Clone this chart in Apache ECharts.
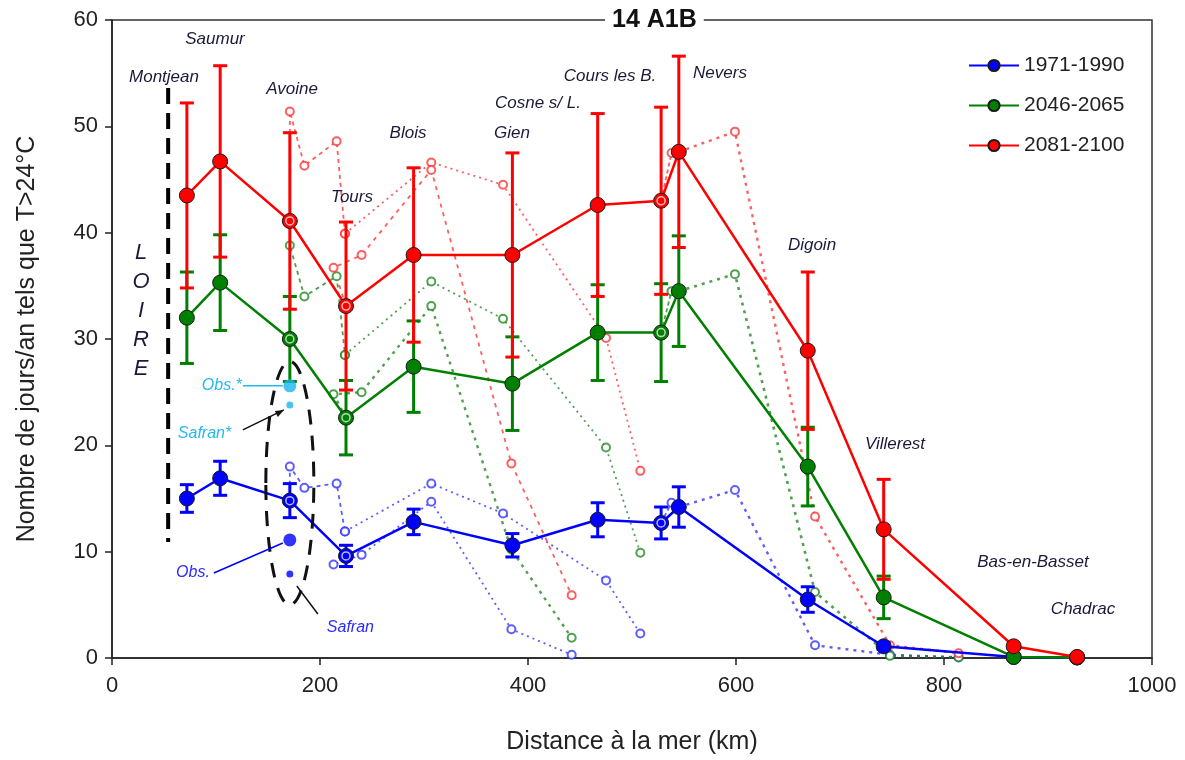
<!DOCTYPE html>
<html>
<head>
<meta charset="utf-8">
<script src="https://cdn.jsdelivr.net/npm/echarts@6/dist/echarts.min.js"></script>
<style>
  html, body { margin: 0; padding: 0; background: #fff; }
  #chart { width: 1185px; height: 760px; }
</style>
</head>
<body>
<div id="chart"></div>
<script>
// stations along the Loire (distance to the sea, km)
const stations = ['Montjean', 'Saumur', 'Avoine', 'Tours', 'Blois', 'Gien', 'Cosne s/ L.', 'Cours les B.', 'Nevers', 'Digoin', 'Villerest', 'Bas-en-Basset', 'Chadrac'];
const distances = [72, 104, 171, 225, 290, 385, 467, 528, 545, 669, 742, 867, 928];

const days1971 = [15.0, 16.9, 14.8, 9.6, 12.8, 10.6, 13.0, 12.7, 14.2, 5.5, 1.1, 0.1, 0.05];
const err1971 = [1.3, 1.6, 1.6, 1.0, 1.2, 1.1, 1.6, 1.5, 1.9, 1.2, 0.3, 0, 0];
const days2046 = [32.0, 35.3, 30.0, 22.6, 27.4, 25.8, 30.6, 30.6, 34.5, 18.0, 5.7, 0.1, 0.05];
const err2046 = [4.3, 4.5, 4.0, 3.5, 4.3, 4.4, 4.5, 4.6, 5.2, 3.7, 2.0, 0, 0];
const days2081 = [43.5, 46.7, 41.1, 33.1, 37.9, 37.9, 42.6, 43.0, 47.6, 28.9, 12.1, 1.1, 0.1];
const err2081 = [8.7, 9.0, 8.3, 7.9, 8.2, 9.6, 8.6, 8.8, 9.0, 7.4, 4.7, 0.2, 0];

// tributaries (dotted lines), distances in km
const tribAx = [171, 171, 185, 216, 224];
const tribBx = [224, 307, 376, 475, 508];
const tribCx = [225, 213, 240, 307, 384, 442];
const tribDx = [528, 538];
const tribEx = [545, 599, 676, 748, 814];

const tribA1971 = [14.8, 18.0, 16.0, 16.4, 11.9];
const tribB1971 = [11.9, 16.4, 13.6, 7.3, 2.3];
const tribC1971 = [9.6, 8.8, 9.7, 14.7, 2.7, 0.3];
const tribD1971 = [12.7, 14.6];
const tribE1971 = [14.2, 15.8, 1.2, 0.3, 0.05];

const tribA2046 = [30.0, 38.8, 34.0, 35.9, 28.5];
const tribB2046 = [28.5, 35.4, 31.9, 19.8, 9.9];
const tribC2046 = [22.6, 24.8, 25.0, 33.1, 10.2, 1.9];
const tribD2046 = [30.6, 34.5];
const tribE2046 = [34.5, 36.1, 6.2, 0.2, 0.07];

const tribA2081 = [41.1, 51.4, 46.3, 48.6, 39.9];
const tribB2081 = [39.9, 46.6, 44.5, 30.1, 17.6];
const tribC2081 = [33.1, 36.7, 37.9, 45.9, 18.3, 5.9];
const tribD2081 = [43.0, 47.5];
const tribE2081 = [47.6, 49.5, 13.3, 1.2, 0.45];

// observations / Safran at Avoine
const obsStar = [171, 25.6];
const safranStar = [171, 23.8];
const obs = [171, 11.1];
const safran = [171, 7.9];

const xTicks = [0, 200, 400, 600, 800, 1000];
const yTicks = [0, 10, 20, 30, 40, 50, 60];

const FONT = 'Liberation Sans, Arial, sans-serif';
const BLUE = '#0000ff', GREEN = '#008000', RED = '#ff0000';

const pairs = (xs, ys) => xs.map((x, i) => [x, ys[i]]);

function errorSeries(vals, errs, color) {
	const data = [];
	distances.forEach((d, i) => {
		if (errs[i] > 0) data.push([d, vals[i] - errs[i], vals[i] + errs[i]]);
	});
	return {
		type: 'custom',
		z: 2,
		silent: true,
		encode: { x: 0, y: [1, 2] },
		data: data,
		renderItem: function (params, api) {
			const top = api.coord([api.value(0), api.value(2)]);
			const bot = api.coord([api.value(0), api.value(1)]);
			const half = 7;
			const st = { stroke: color, lineWidth: 3 };
			return {
				type: 'group',
				children: [
					{ type: 'line', shape: { x1: top[0], y1: top[1], x2: bot[0], y2: bot[1] }, style: st },
					{ type: 'line', shape: { x1: top[0] - half, y1: top[1], x2: top[0] + half, y2: top[1] }, style: st },
					{ type: 'line', shape: { x1: bot[0] - half, y1: bot[1], x2: bot[0] + half, y2: bot[1] }, style: st }
				]
			};
		}
	};
}

function mainSeries(name, vals, color) {
	return {
		name: name,
		type: 'line',
		z: 3,
		data: pairs(distances, vals),
		symbol: 'circle',
		symbolSize: 15,
		lineStyle: { color: color, width: 2.5 },
		itemStyle: { color: color, borderColor: '#1a1a1a', borderWidth: 1 }
	};
}

function tribSeries(xs, ys, color, dash, width) {
	return {
		type: 'line',
		z: 1,
		silent: true,
		data: pairs(xs, ys),
		symbol: 'emptyCircle',
		symbolSize: 8,
		lineStyle: { color: color, width: width || 1.8, type: dash },
		itemStyle: { color: color, borderWidth: 1.5 }
	};
}

function ringSeries(vals, color) {
	const idx = [2, 3, 7];
	return {
		type: 'scatter',
		z: 5,
		silent: true,
		data: idx.map(i => [distances[i], vals[i]]),
		symbol: 'circle',
		symbolSize: 8,
		itemStyle: { color: color, borderColor: 'rgba(255,255,255,0.9)', borderWidth: 1.5 }
	};
}

const tribBlue = 'rgba(40,40,255,0.75)';
const tribGreen = 'rgba(20,130,20,0.75)';
const tribRed = 'rgba(255,40,40,0.75)';

const chart = echarts.init(document.getElementById('chart'));

const option = {
	animation: false,
	backgroundColor: '#fff',
	textStyle: { fontFamily: FONT },
	title: {
		text: '14 A1B',
		left: 605,
		top: 5,
		padding: [3, 7],
		backgroundColor: '#fff',
		textStyle: { fontSize: 25, fontWeight: 'bold', color: '#111', fontFamily: FONT }
	},
	legend: {
		left: 963,
		top: 50,
		orient: 'vertical',
		itemWidth: 50,
		itemHeight: 14,
		itemGap: 19,
		textStyle: { fontSize: 21, color: '#222', fontFamily: FONT },
		data: ['1971-1990', '2046-2065', '2081-2100']
	},
	grid: {
		left: 112,
		right: 33,
		top: 20,
		bottom: 98,
		show: true,
		borderColor: '#333',
		borderWidth: 1.5
	},
	xAxis: {
		type: 'value',
		min: xTicks[0],
		max: xTicks[xTicks.length - 1],
		interval: 200,
		name: 'Distance à la mer (km)',
		nameLocation: 'middle',
		nameGap: 72,
		nameTextStyle: { fontSize: 25, color: '#222', fontFamily: FONT },
		axisLine: { lineStyle: { color: '#222', width: 1.5 } },
		axisTick: { length: 7, lineStyle: { color: '#222', width: 1.5 } },
		axisLabel: { fontSize: 22, color: '#222', margin: 17, formatter: v => String(v) },
		splitLine: { show: false }
	},
	yAxis: {
		type: 'value',
		min: yTicks[0],
		max: yTicks[yTicks.length - 1],
		interval: 10,
		name: 'Nombre de jours/an tels que T>24°C',
		nameLocation: 'middle',
		nameGap: 72,
		nameTextStyle: { fontSize: 25, color: '#222', fontFamily: FONT },
		axisLine: { lineStyle: { color: '#222', width: 1.5 } },
		axisTick: { length: 7, lineStyle: { color: '#222', width: 1.5 } },
		axisLabel: { fontSize: 22, color: '#222', margin: 14 },
		splitLine: { show: false }
	},
	series: [
		tribSeries(tribAx, tribA1971, tribBlue, [4, 4]),
		tribSeries(tribBx, tribB1971, tribBlue, [2, 4]),
		tribSeries(tribCx, tribC1971, tribBlue, [2, 4]),
		tribSeries(tribDx, tribD1971, tribBlue, [4, 3]),
		tribSeries(tribEx, tribE1971, tribBlue, [3, 5], 2.4),
		tribSeries(tribAx, tribA2046, tribGreen, [4, 4]),
		tribSeries(tribBx, tribB2046, tribGreen, [2, 4]),
		tribSeries(tribCx, tribC2046, tribGreen, [3, 5], 2.4),
		tribSeries(tribDx, tribD2046, tribGreen, [4, 3]),
		tribSeries(tribEx, tribE2046, tribGreen, [3, 5], 2.6),
		tribSeries(tribAx, tribA2081, tribRed, [4, 4]),
		tribSeries(tribBx, tribB2081, tribRed, [2, 4]),
		tribSeries(tribCx, tribC2081, tribRed, [4, 5]),
		tribSeries(tribDx, tribD2081, tribRed, [4, 3]),
		tribSeries(tribEx, tribE2081, tribRed, [3, 5], 2.4),
		errorSeries(days1971, err1971, BLUE),
		errorSeries(days2046, err2046, GREEN),
		errorSeries(days2081, err2081, RED),
		mainSeries('1971-1990', days1971, BLUE),
		mainSeries('2046-2065', days2046, GREEN),
		mainSeries('2081-2100', days2081, RED),
		ringSeries(days1971, BLUE),
		ringSeries(days2046, GREEN),
		ringSeries(days2081, RED),
		{
			type: 'scatter', z: 5, silent: true,
			data: [obsStar], symbolSize: 13,
			itemStyle: { color: '#1cb4ee' }
		},
		{
			type: 'scatter', z: 5, silent: true,
			data: [safranStar], symbolSize: 7,
			itemStyle: { color: '#1cb4ee' }
		},
		{
			type: 'scatter', z: 5, silent: true,
			data: [obs], symbolSize: 13,
			itemStyle: { color: BLUE }
		},
		{
			type: 'scatter', z: 5, silent: true,
			data: [safran], symbolSize: 7,
			itemStyle: { color: BLUE }
		}
	]
};

chart.setOption(option);

// annotations
const toPx = (pt) => chart.convertToPixel({ gridIndex: 0 }, pt);
const labelStyle = { fontSize: 17, fontStyle: 'italic', fill: '#1a1a3a', fontFamily: FONT };

const stationLabels = [
	['Montjean', 164, 77], ['Saumur', 215, 39], ['Avoine', 292, 89], ['Tours', 352, 197],
	['Blois', 408, 133], ['Gien', 512, 133], ['Cosne s/ L.', 538, 103], ['Cours les B.', 610, 76],
	['Nevers', 720, 73], ['Digoin', 812, 245], ['Villerest', 895, 444],
	['Bas-en-Basset', 1033, 562], ['Chadrac', 1083, 609]
];

const graphics = stationLabels.map(s => ({
	type: 'text', z: 10, x: s[1], y: s[2],
	style: Object.assign({ text: s[0], textAlign: 'center', textVerticalAlign: 'middle' }, labelStyle)
}));

'LOIRE'.split('').forEach((ch, i) => {
	graphics.push({
		type: 'text', z: 10, x: 141, y: 253 + i * 29,
		style: { text: ch, textAlign: 'center', textVerticalAlign: 'middle', fontSize: 22, fontStyle: 'italic', fill: '#1a1a3a', fontFamily: FONT }
	});
});

// vertical dashed line (Loire)
const lTop = toPx([54, 53.6]), lBot = toPx([54, 10.9]);
graphics.push({
	type: 'line', z: 10,
	shape: { x1: lTop[0], y1: lTop[1], x2: lBot[0], y2: lBot[1] },
	style: { stroke: '#000', lineWidth: 4, lineDash: [16, 9] }
});

// dashed ellipse around the Avoine observations
const eTop = toPx([171, 27.9]), eBot = toPx([171, 5.0]);
graphics.push({
	type: 'ellipse', z: 10,
	shape: { cx: eTop[0], cy: (eTop[1] + eBot[1]) / 2, rx: 24, ry: (eBot[1] - eTop[1]) / 2 },
	style: { fill: 'none', stroke: '#111', lineWidth: 3, lineDash: [15, 11] }
});

const pObsS = toPx(obsStar), pSafS = toPx(safranStar), pObs = toPx(obs), pSaf = toPx(safran);
const cyan = '#22b8f0';
graphics.push(
	{ type: 'line', z: 10, shape: { x1: pObsS[0] - 47, y1: pObsS[1], x2: pObsS[0] - 7, y2: pObsS[1] }, style: { stroke: cyan, lineWidth: 1.5 } },
	{ type: 'text', z: 10, x: pObsS[0] - 48, y: pObsS[1], style: { text: 'Obs.*', textAlign: 'right', textVerticalAlign: 'middle', fontSize: 16, fontStyle: 'italic', fill: cyan, fontFamily: FONT } },
	{ type: 'line', z: 10, shape: { x1: pSafS[0] - 47, y1: pSafS[1] + 25, x2: pSafS[0] - 6, y2: pSafS[1] + 5 }, style: { stroke: '#111', lineWidth: 1.5 } },
	{ type: 'polygon', z: 10, shape: { points: [[pSafS[0] - 6, pSafS[1] + 5], [pSafS[0] - 15, pSafS[1] + 6], [pSafS[0] - 12, pSafS[1] + 12]] }, style: { fill: '#111' } },
	{ type: 'text', z: 10, x: pSafS[0] - 112, y: pSafS[1] + 29, style: { text: 'Safran*', textAlign: 'left', textVerticalAlign: 'middle', fontSize: 16, fontStyle: 'italic', fill: cyan, fontFamily: FONT } },
	{ type: 'line', z: 10, shape: { x1: pObs[0] - 76, y1: pObs[1] + 33, x2: pObs[0] - 7, y2: pObs[1] + 3 }, style: { stroke: BLUE, lineWidth: 1.5 } },
	{ type: 'text', z: 10, x: pObs[0] - 80, y: pObs[1] + 33, style: { text: 'Obs.', textAlign: 'right', textVerticalAlign: 'middle', fontSize: 16, fontStyle: 'italic', fill: '#2a2aff', fontFamily: FONT } },
	{ type: 'line', z: 10, shape: { x1: pSaf[0] + 7, y1: pSaf[1] + 12, x2: pSaf[0] + 28, y2: pSaf[1] + 40 }, style: { stroke: '#111', lineWidth: 1.5 } },
	{ type: 'text', z: 10, x: pSaf[0] + 37, y: pSaf[1] + 54, style: { text: 'Safran', textAlign: 'left', textVerticalAlign: 'middle', fontSize: 16, fontStyle: 'italic', fill: '#2a2aff', fontFamily: FONT } }
);

chart.setOption({ graphic: { elements: graphics } });
</script>
</body>
</html>
